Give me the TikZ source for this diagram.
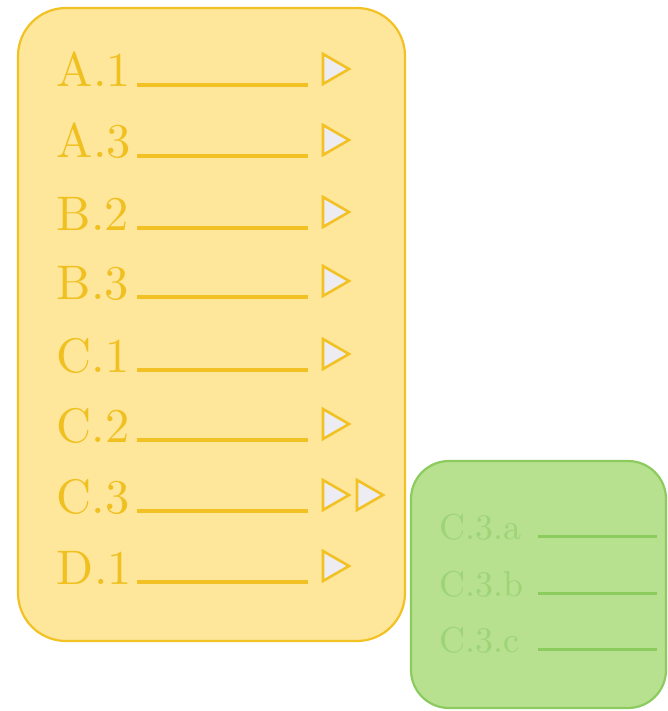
\documentclass[tikz,border=0pt]{standalone}
\definecolor{yfill}{HTML}{FEE69A}
\definecolor{yline}{HTML}{F2C224}
\definecolor{ytext}{HTML}{EFC020}
\definecolor{trifill}{HTML}{ECECF2}
\definecolor{gfill}{HTML}{B7E08F}
\definecolor{gline}{HTML}{8CCB5E}
\definecolor{gtext}{HTML}{9ED478}
\tikzset{
  ybox/.style={draw=yline, fill=yfill, line width=2.2pt, rounded corners=48pt},
  gbox/.style={draw=gline, fill=gfill, line width=2.2pt, rounded corners=38pt},
  ylabel/.style={anchor=base west, inner sep=0pt, text=ytext, scale=4.85, font=\fontsize{10}{12}\selectfont},
  glabel/.style={anchor=base west, inner sep=0pt, text=gtext, scale=3.6, font=\fontsize{10}{12}\selectfont},
  yrule/.style={draw=yline, line width=3.2pt},
  grule/.style={draw=gline, line width=3pt},
  tri/.style={draw=yline, fill=trifill, line width=2.6pt, line join=miter}
}
\begin{document}
\begin{tikzpicture}[x=1pt,y=-1pt]
\useasboundingbox (0,0) rectangle (668,711);
\draw[ybox] (18,8) rectangle (405,641);
\draw[gbox] (411,461) rectangle (666,708);
% yellow rows
\foreach \lab/\yy/\nm in {A.1/87/a1, A.3/158/a3, B.2/230/b2, B.3/299/b3, C.1/372/c1, C.2/442/c2, C.3/513/c3, D.1/584/d1}{
  \node[ylabel] (\nm) at (56,\yy) {\lab};
  \coordinate (\nm s) at (137,\yy-2);
  \coordinate (\nm e) at (308,\yy-2);
  \draw[yrule] (\nm s) -- (\nm e);
  \coordinate (\nm t) at (323,\yy-18);
  \draw[tri] (\nm t) ++(0,-15) -- ++(26,15) -- ++(-26,15) -- cycle;
}
\coordinate (c3t2) at (357,495);
\draw[tri] (c3t2) ++(0,-15) -- ++(26,15) -- ++(-26,15) -- cycle;
% green rows
\foreach \lab/\yy/\nm in {C.3.a/539/ga, C.3.b/596/gb, C.3.c/652/gc}{
  \node[glabel] (\nm) at (439,\yy) {\lab};
  \coordinate (\nm s) at (538,\yy-3);
  \coordinate (\nm e) at (657,\yy-3);
  \draw[grule] (\nm s) -- (\nm e);
}
\end{tikzpicture}
\end{document}
